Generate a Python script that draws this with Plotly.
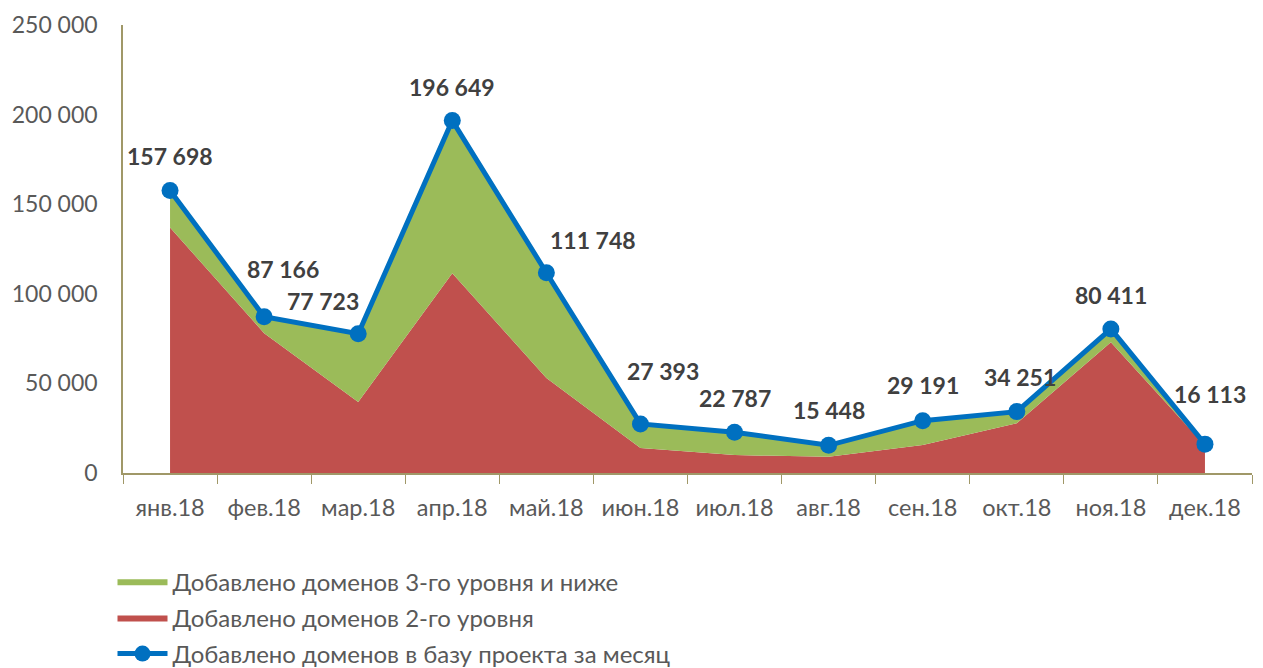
import plotly.graph_objects as go

months = ["янв.18", "фев.18", "мар.18", "апр.18", "май.18", "июн.18",
          "июл.18", "авг.18", "сен.18", "окт.18", "ноя.18", "дек.18"]
total = [157698, 87166, 77723, 196649, 111748, 27393,
         22787, 15448, 29191, 34251, 80411, 16113]
level2 = [137000, 78000, 39600, 111500, 53000, 14000,
          10000, 9000, 15600, 27800, 73000, 15300]
level3 = [t - r for t, r in zip(total, level2)]

name3 = "Добавлено доменов 3-го уровня и ниже"
name2 = "Добавлено доменов 2-го уровня"
name_total = "Добавлено доменов в базу проекта за месяц"

# label offsets (px) relative to markers: styling only
label_dx = [0, 19, -35, 0, 47, 23, 0, 0, 0, 3, 0, 5]
label_dy = [34, 48, 33, 34, 33, 53, 34, 35, 36, 35, 34, 50]

FONT = "Lato, 'Open Sans', sans-serif"

fig = go.Figure()
fig.add_trace(go.Scatter(x=months, y=level2, name=name2, mode="lines",
                         stackgroup="one", line=dict(width=0, color="#C0504D"),
                         fillcolor="#C0504D", legendrank=2, legendgroup="b"))
fig.add_trace(go.Scatter(x=months, y=level3, name=name3, mode="lines",
                         stackgroup="one", line=dict(width=0, color="#9BBB59"),
                         fillcolor="#9BBB59", legendrank=1, legendgroup="a"))
fig.add_trace(go.Scatter(x=months, y=total, name=name_total, mode="lines+markers",
                         line=dict(width=5, color="#0070C0"),
                         marker=dict(size=17, color="#0070C0"), legendrank=3,
                         legendgroup="c"))

for m, v, dx, dy in zip(months, total, label_dx, label_dy):
    fig.add_annotation(x=m, y=v, text=f"{v:,}".replace(",", " "), showarrow=False,
                       xshift=dx, yshift=dy,
                       font=dict(family=FONT, size=23, color="#404040", weight="bold"))

fig.update_layout(
    width=1263, height=668,
    margin=dict(l=115, r=19, t=17, b=203),
    paper_bgcolor="white", plot_bgcolor="white",
    font=dict(family=FONT, size=24, color="#595959"),
    separators=", ",
    showlegend=True,
    legend=dict(x=-0.0093, y=0.175, yref="container", xanchor="left", yanchor="top",
                orientation="v", traceorder="grouped",
                font=dict(size=24, color="#595959"),
                itemwidth=50, tracegroupgap=2),
    xaxis=dict(showline=True, linecolor="#A09868", linewidth=1.5,
               ticks="outside", tickson="boundaries", tickcolor="#A09868",
               ticklen=9, showgrid=False, range=[-0.5, 11.5], automargin=False,
               ticklabelstandoff=13,
               tickfont=dict(size=23.5, color="#595959")),
    yaxis=dict(showline=True, linecolor="#A09868", linewidth=1.5,
               range=[0, 250000], dtick=50000, tickformat=",d",
               showgrid=False, zeroline=False, ticks="", automargin=False,
               ticklabelstandoff=19,
               tickfont=dict(size=23, color="#595959")),
)

fig.write_html("out.html")
